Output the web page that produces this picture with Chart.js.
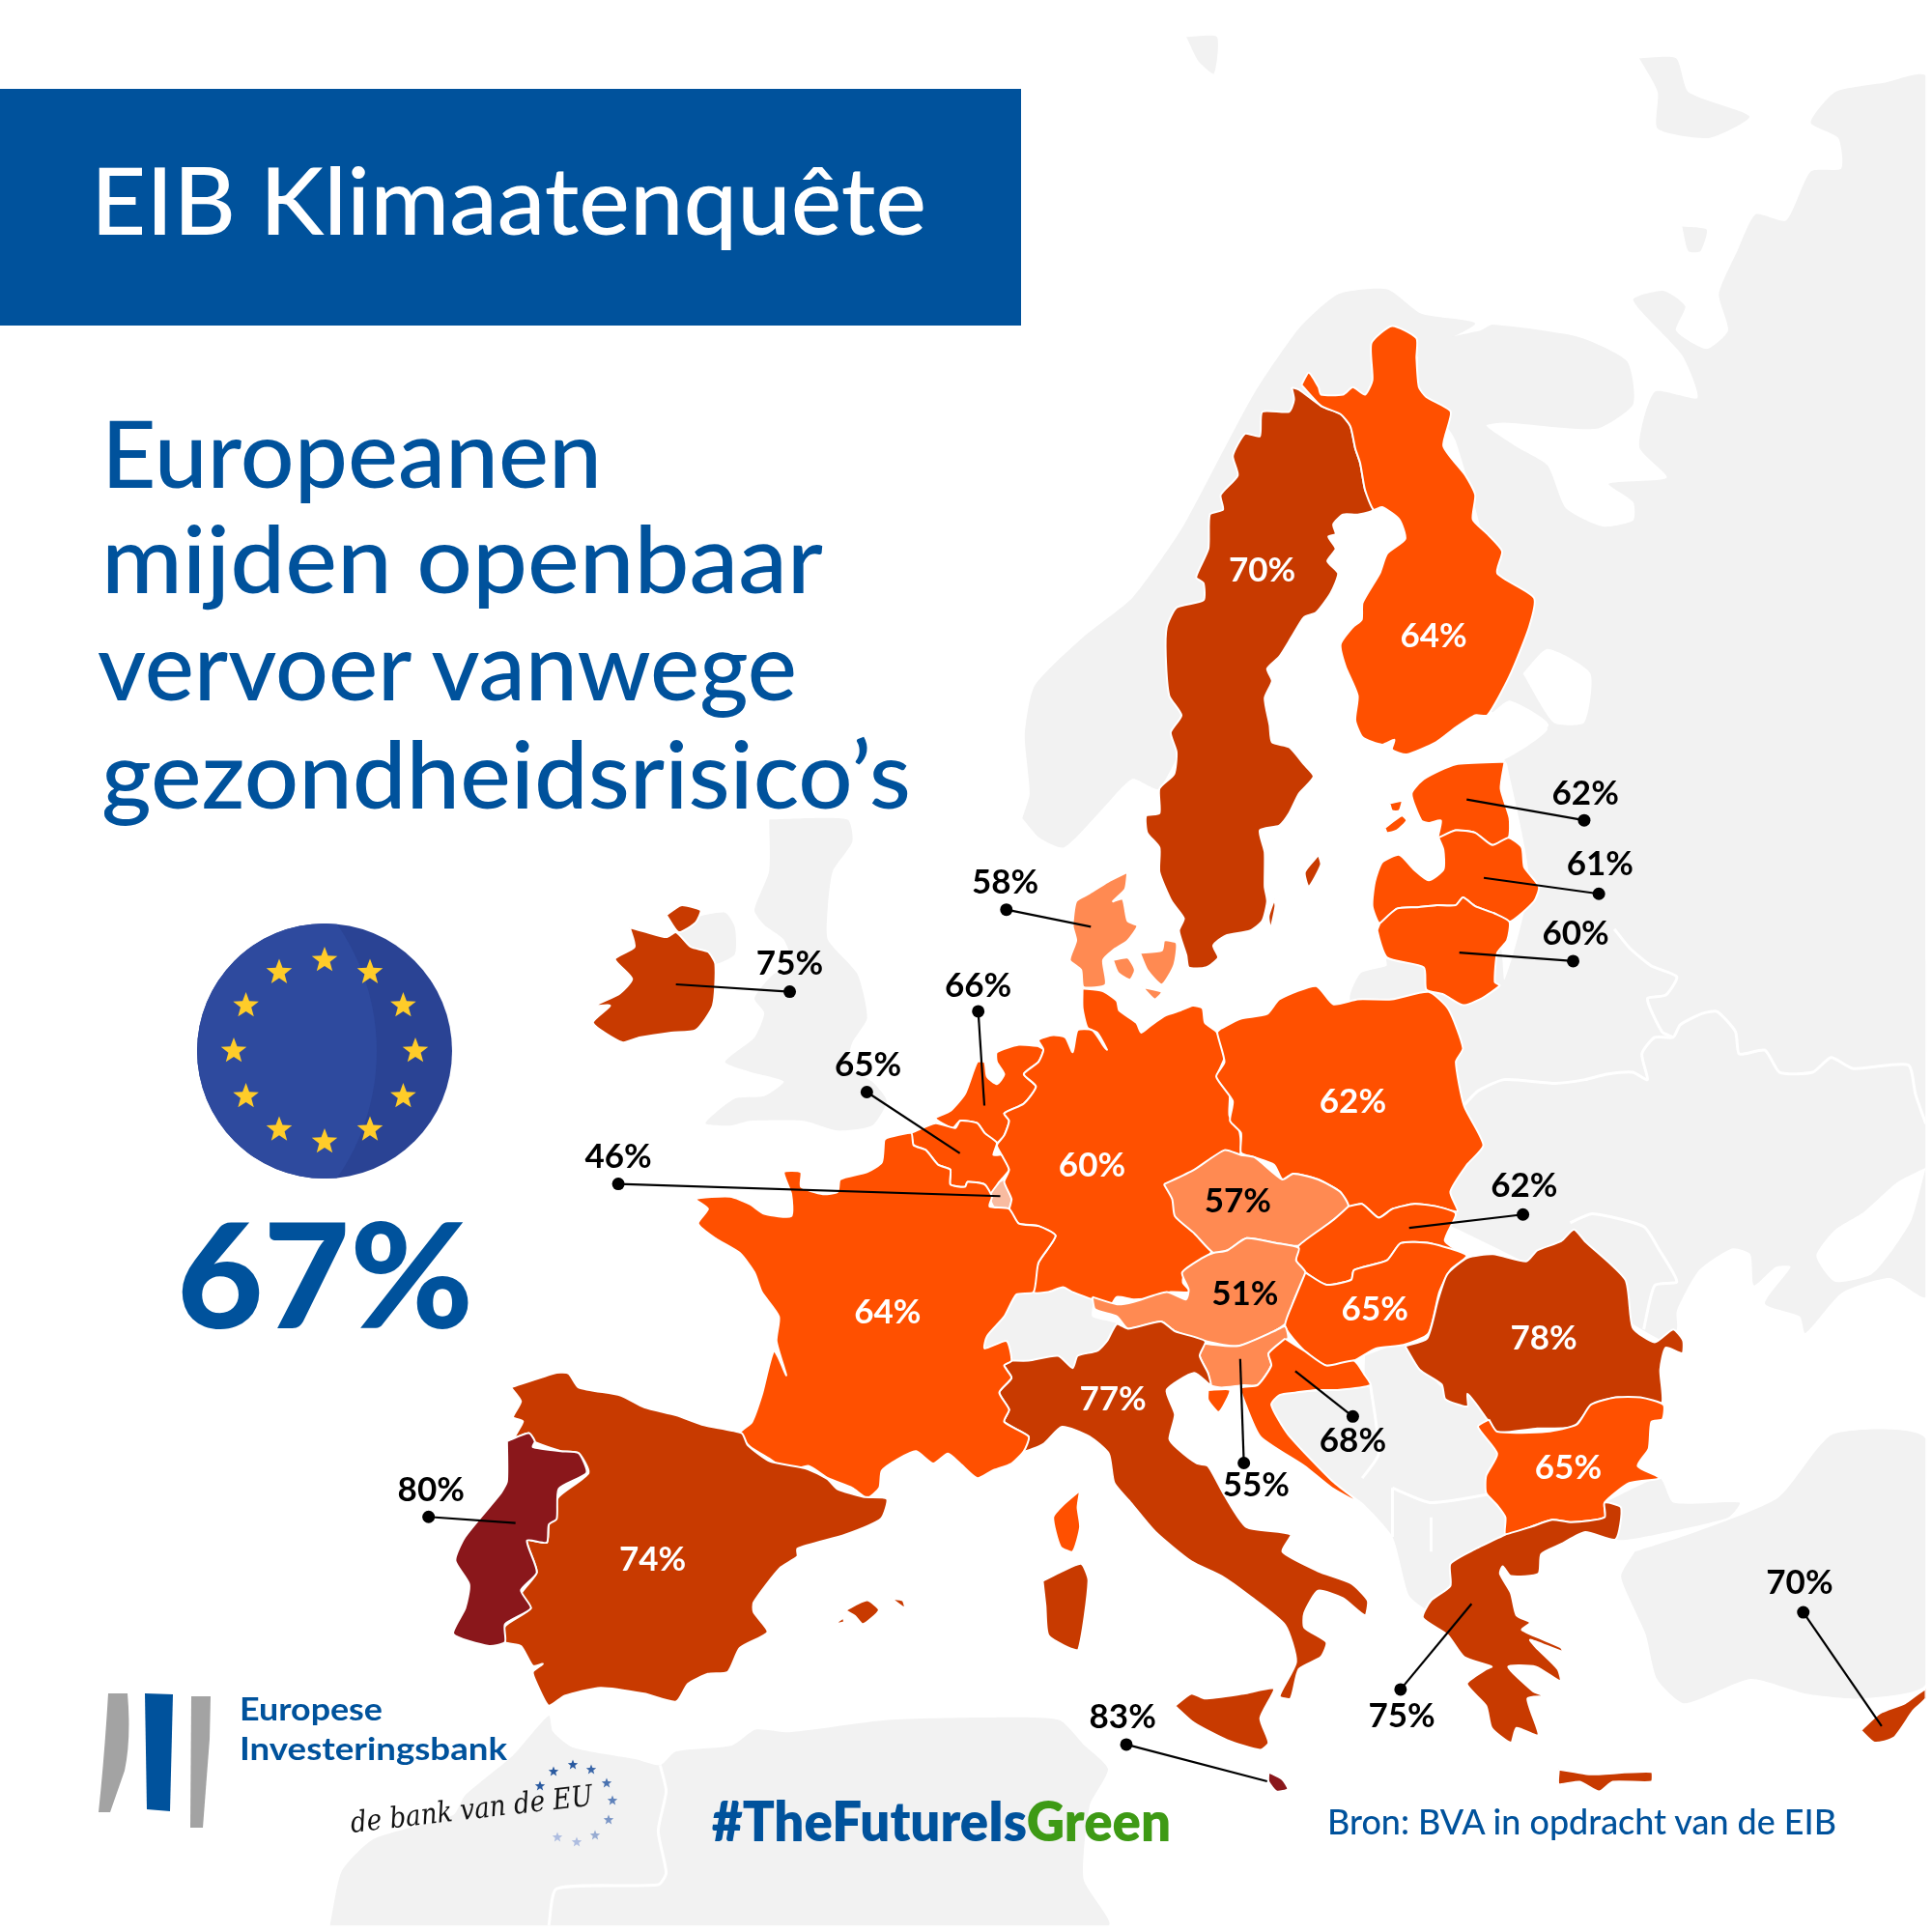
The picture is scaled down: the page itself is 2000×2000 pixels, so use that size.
<!DOCTYPE html>
<html lang="nl">
<head>
<meta charset="utf-8">
<title>EIB Klimaatenquête</title>
<script src="https://cdn.jsdelivr.net/npm/chart.js@4"></script>
<style>
  html, body { margin: 0; padding: 0; background: #fff; }
  #wrap { position: relative; width: 2000px; height: 2000px; overflow: hidden; }
  #mapChart, #overlay { position: absolute; left: 0; top: 0; }
  #overlay text { font-family: Lato, "Noto Sans", sans-serif; }
</style>
</head>
<body>
<div id="wrap">
  <canvas id="mapChart" width="2000" height="2000"></canvas>
  <svg id="overlay" width="2000" height="2000" viewBox="0 0 2000 2000" xmlns="http://www.w3.org/2000/svg">
    <rect x="0" y="92" width="1057" height="245" fill="#00529c"/>
    <text x="94" y="243" font-size="97" font-weight="500" fill="#fff" textLength="865" lengthAdjust="spacingAndGlyphs">EIB Klimaatenquête</text>
    <g font-size="97" font-weight="500" fill="#00529c">
      <text x="105" y="505" textLength="518" lengthAdjust="spacingAndGlyphs">Europeanen</text>
      <text x="105" y="614" textLength="747" lengthAdjust="spacingAndGlyphs">mijden openbaar</text>
      <text x="101" y="725" textLength="724" lengthAdjust="spacingAndGlyphs">vervoer vanwege</text>
      <text x="105" y="837" textLength="838" lengthAdjust="spacingAndGlyphs">gezondheidsrisico’s</text>
    </g>
    <defs><clipPath id="flagClip"><circle cx="336" cy="1088" r="132"/></clipPath></defs>
    <circle cx="336" cy="1088" r="132" fill="#2a4394"/>
    <circle cx="159" cy="1088" r="231" fill="#2e4a9e" clip-path="url(#flagClip)"/>
    <g id="flagStars" fill="#ffcc29"></g>
    <text x="183" y="1375" font-size="150" font-weight="900" fill="#00529c" textLength="307" lengthAdjust="spacingAndGlyphs">67%</text>
    <path d="M112 1753 L132 1753 Q136 1800 129 1833 L114 1876 L102 1876 Q108 1820 112 1753Z" fill="#a3a3a3"/>
    <path d="M150 1753 L179 1754 L176 1875 L152 1873Z" fill="#00529c"/>
    <path d="M198 1756 L218 1756 L217 1800 L210 1892 L197 1892Z" fill="#a3a3a3"/>
    <g font-size="33" font-weight="700" fill="#00529c">
      <text x="248" y="1781" textLength="148" lengthAdjust="spacingAndGlyphs">Europese</text>
      <text x="248" y="1822" textLength="277" lengthAdjust="spacingAndGlyphs">Investeringsbank</text>
    </g>
    <text transform="translate(364 1897) rotate(-6.5)" style="font-family:'DejaVu Serif',serif;font-style:italic" font-size="30" fill="#111" textLength="252" lengthAdjust="spacingAndGlyphs">de bank van de EU</text>
    <g id="logoStars"></g>
    <text x="737" y="1906" font-size="57" font-weight="800" fill="#00529c" textLength="475" lengthAdjust="spacingAndGlyphs">#TheFutureIs<tspan fill="#3e9a15">Green</tspan></text>
    <text x="1374" y="1899" font-size="37" font-weight="500" fill="#00529c" textLength="527" lengthAdjust="spacingAndGlyphs">Bron: BVA in opdracht van de EIB</text>
  </svg>
</div>
<script>
const sheet = (ox, oy, kx, ky = kx) => pts => pts.map(([x, y]) => ({ x: ox + x * kx, y: oy + y * ky }));
const north = sheet(1000, 300, 0.5102);
const west = sheet(550, 850, 0.5102);
const east = sheet(1100, 1100, 0.574, 0.5102);
const iberia = sheet(300, 1350, 0.4145);
const arctic = sheet(1000, 0, 0.6378);
const black = sheet(1400, 950, 0.3827);
const page = sheet(0, 0, 1.2755);

// survey results
const countries = ['Zweden', 'Finland', 'Estland', 'Letland', 'Litouwen', 'Denemarken', 'Ierland', 'Nederland', 'België', 'Luxemburg',
  'Duitsland', 'Polen', 'Tsjechië', 'Slowakije', 'Oostenrijk', 'Hongarije', 'Slovenië', 'Kroatië', 'Roemenië', 'Bulgarije',
  'Griekenland', 'Italië', 'Frankrijk', 'Spanje', 'Portugal', 'Malta', 'Cyprus'];
const shares = [70, 64, 62, 61, 60, 58, 75, 66, 65, 46,
  60, 62, 57, 62, 51, 65, 55, 68, 78, 65,
  75, 77, 64, 74, 80, 83, 70];

// background land
const norway = north([[115,1070],[130,1020],[120,900],[140,800],[240,700],[340,620],[440,480],[520,330],[590,200],[680,70],[760,0],[860,-10],[930,40],[1040,60],[920,130],[700,400],[500,800],[395,1010],[340,990],[280,1050],[200,1130],[150,1110]]);
const eastLand = [
  ...arctic([[740,550],[840,530],[860,520],[1000,540],[1080,580],[1090,650],[1030,690],[880,680],[850,685],[900,720],[950,750],[980,820],[1040,850],[1090,840],[1090,810],[1050,780],[1145,770],[1100,720],[1125,630],[1195,640],[1170,570],[1090,480],[1140,465],[1175,490],[1160,530],[1210,560],[1245,530],[1230,470],[1260,400],[1290,340],[1340,350],[1380,270],[1430,265],[1425,215],[1380,190],[1420,140],[1500,125],[1568,115],[1568,1568]]),
  ...black([[1568,1030],[1470,980],[1340,1020],[1240,1130],[1225,1085],[1130,1050],[1200,950],[1160,950],[1100,1000],[1090,915],[1040,900],[950,960],[890,1070],[890,1120],[850,1150],[600,1000],[300,850],[0,700],[0,215],[30,150],[100,130],[100,110],[400,50]]),
  ...north([[1100,1400],[1150,1200],[1105,960],[1100,950],[1190,880],[1110,830],[1065,860],[1100,700],[1000,300],[925,190]])
];
const azovSea = black([[1568,680],[1490,720],[1400,800],[1320,850],[1270,920],[1320,990],[1420,970],[1480,900],[1530,820]]);
const ladoga = arctic([[910,1090],[950,1050],[1020,1090],[1010,1170],[960,1170]]);
const gulfEnd = arctic([[850,1150],[950,1180],[880,1230],[800,1240]]);
const onega = arctic([[1170,360],[1210,365],[1200,400],[1180,400]]);
const svalbardTip = arctic([[360,50],[410,50],[405,110],[380,90]]);
const novaya = arctic([[1100,85],[1160,85],[1180,140],[1280,180],[1215,215],[1130,200],[1130,140]]);
const britain = west([[480,-5],[640,-5],[650,40],[610,100],[600,170],[600,240],[660,310],[680,400],[650,450],[640,500],[690,530],[720,570],[690,620],[620,630],[550,610],[440,610],[400,620],[350,615],[410,565],[470,560],[510,530],[440,510],[390,490],[450,440],[470,390],[450,360],[490,310],[530,300],[510,240],[470,210],[450,180],[480,100]]);
const ulster = west([[290,225],[330,195],[390,185],[410,215],[410,270],[370,290],[355,265],[320,255]]);
const swiss = west([[985,965],[1020,960],[1050,960],[1080,950],[1100,960],[1140,975],[1140,1010],[1190,1025],[1170,1060],[1150,1080],[1110,1090],[1100,1115],[1070,1090],[1010,1100],[975,1100],[965,1060],[920,1075],[925,1050],[960,1010]]);
const balkans = east([[550,600],[620,575],[650,615],[695,670],[740,680],[775,730],[755,745],[790,800],[770,845],[770,880],[805,930],[805,965],[750,995],[705,1025],[705,1070],[670,1100],[665,1120],[630,1090],[600,970],[545,900],[490,855],[410,760],[380,700],[395,680],[500,670],[560,660],[550,640]]);
const thrace = east([[985,900],[1085,850],[1110,900],[1230,900],[1210,930],[1100,960],[1005,975],[1015,910]]);
const anatolia = east([[1040,1000],[1150,960],[1300,890],[1400,760],[1568,770],[1568,1270],[1450,1300],[1350,1290],[1250,1260],[1130,1310],[1080,1260],[1060,1170],[1040,1120],[1015,1050]]);
const africa = [
  ...iberia([[90,1568],[120,1430],[200,1350],[400,1290],[430,1240],[550,1140],[640,1040],[650,1080],[700,1120],[860,1150],[920,1165],[960,1130],[1100,1115],[1160,1075]]),
  ...page([[640,1410],[720,1400],[800,1398],[860,1400],[880,1420],[900,1440],[885,1470],[880,1530],[900,1568]])
];
const landShapes = [norway, eastLand, britain, ulster, swiss, balkans, thrace, anatolia, africa, onega, svalbardTip, novaya];
const seaShapes = [azovSea, ladoga, gulfEnd];

// white borders inside the grey land
const grayBorders = [
  black([[310,510],[350,470],[420,440],[560,450],[640,440],[700,425],[770,420],[810,440],[795,370],[830,325],[880,325],[900,290],[960,260],[1000,255],[1050,310],[1060,370],[1130,360],[1170,420],[1260,420],[1310,380],[1370,410],[1520,400],[1540,480],[1568,560]]),
  black([[720,30],[760,80],[820,130],[890,160],[860,210],[810,220],[850,310],[880,325]]),
  black([[600,830],[660,805],[800,840],[840,900],[890,990],[830,1000],[800,1120]]),
  east([[560,660],[575,800],[545,850]]),
  east([[600,870],[670,900],[790,880]]),
  east([[600,870],[600,970]]),
  east([[670,930],[670,1000]]),
  iberia([[920,1165],[935,1230],[915,1330],[935,1435],[915,1465],[660,1475],[640,1568]])
];

// member states
const sweden = north([[665,190],[680,195],[725,228],[765,245],[785,270],[795,315],[805,345],[815,400],[832,440],[800,450],[770,450],[750,470],[755,490],[740,495],[755,520],[738,545],[760,570],[745,610],[715,650],[690,660],[665,700],[640,740],[615,765],[625,790],[610,825],[620,880],[625,915],[660,925],[690,960],[710,985],[680,1020],[660,1060],[640,1085],[600,1095],[610,1140],[610,1210],[615,1240],[605,1280],[580,1300],[530,1310],[505,1330],[515,1355],[490,1375],[455,1375],[450,1350],[435,1300],[445,1275],[420,1240],[395,1180],[395,1130],[370,1100],[368,1065],[395,1060],[395,1010],[425,980],[430,935],[418,895],[440,860],[415,820],[408,740],[410,680],[430,640],[485,625],[485,590],[470,578],[495,520],[498,450],[525,440],[520,410],[555,370],[545,330],[570,285],[600,290],[605,240],[660,240],[670,215]]);
const gotland = north([[720,1145],[725,1165],[700,1210],[692,1180]]);
const oland = north([[630,1235],[632,1250],[622,1295],[618,1270]]);
const finland = north([[685,185],[700,160],[720,190],[725,205],[770,205],[790,190],[815,205],[830,175],[828,100],[870,65],[920,90],[920,130],[925,190],[940,210],[990,240],[975,310],[1020,370],[1040,410],[1035,460],[1065,490],[1095,525],[1085,570],[1160,620],[1150,680],[1110,780],[1065,860],[1040,860],[1000,885],[960,915],[900,940],[870,930],[875,910],[850,920],[810,905],[795,870],[800,820],[775,760],[765,715],[790,680],[808,665],[810,630],[845,570],[860,530],[897,500],[885,460],[850,435],[832,440],[815,400],[805,345],[795,315],[785,270],[765,245],[725,228]]);
const estonia = north([[1100,955],[1092,1010],[1110,1070],[1108,1110],[1075,1125],[1040,1100],[1000,1095],[965,1110],[970,1075],[945,1080],[930,1075],[910,1020],[935,990],[1000,960]]);
const hiiumaa = north([[865,1040],[890,1035],[885,1055],[870,1055]]);
const saaremaa = north([[855,1090],[890,1065],[900,1075],[880,1095],[860,1100]]);
const latvia = north([[965,1110],[1000,1095],[1040,1100],[1075,1125],[1108,1110],[1135,1130],[1140,1170],[1170,1210],[1160,1240],[1110,1282],[1080,1265],[1040,1250],[1015,1232],[1000,1248],[960,1248],[920,1252],[880,1255],[845,1285],[830,1250],[835,1200],[850,1160],[885,1145],[915,1175],[945,1197],[975,1175],[975,1135]]);
const lithuania = north([[845,1285],[880,1255],[920,1252],[960,1248],[1000,1248],[1015,1232],[1040,1250],[1080,1265],[1110,1282],[1105,1320],[1085,1345],[1080,1405],[1090,1412],[1050,1440],[1015,1452],[975,1430],[940,1420],[935,1375],[860,1355],[840,1300]]);
const jutland = north([[330,1180],[325,1215],[300,1240],[320,1235],[330,1280],[350,1290],[330,1320],[300,1340],[280,1360],[285,1410],[240,1415],[235,1380],[212,1360],[225,1320],[218,1290],[225,1240],[250,1225],[290,1200]]);
const funen = north([[300,1360],[330,1355],[345,1380],[335,1400],[310,1385]]);
const zealand = north([[355,1345],[400,1340],[405,1320],[430,1325],[425,1370],[400,1410],[370,1380]]);
const lolland = north([[360,1415],[400,1425],[385,1440]]);
const ireland = west([[195,215],[230,225],[270,235],[290,225],[320,255],[355,265],[370,290],[365,375],[330,425],[280,430],[215,440],[180,450],[120,410],[155,375],[125,375],[175,350],[200,320],[165,280],[205,255]]);
const donegal = west([[270,190],[300,170],[340,180],[330,205],[295,225]]);
const netherlands = west([[1030,458],[1040,465],[1030,490],[1000,515],[1025,540],[1000,575],[960,595],[970,610],[960,640],[945,655],[920,635],[905,615],[870,610],[855,625],[820,605],[850,590],[880,555],[905,490],[920,490],[925,520],[945,535],[960,515],[945,490],[945,470],[990,455]]);
const belgium = west([[770,635],[820,615],[860,625],[870,610],[905,615],[920,635],[945,655],[938,680],[955,680],[970,710],[950,735],[935,765],[920,740],[885,735],[880,745],[850,740],[850,710],[825,700],[800,670],[775,660]]);
const luxembourg = west([[950,735],[960,730],[975,770],[970,790],[945,795],[930,765]]);
const germany = west([[1120,340],[1160,345],[1190,365],[1195,385],[1230,410],[1240,430],[1260,415],[1290,395],[1320,385],[1345,375],[1365,380],[1370,410],[1395,430],[1410,480],[1395,520],[1420,550],[1420,600],[1440,630],[1443,675],[1400,780],[1385,875],[1360,900],[1330,915],[1325,940],[1340,960],[1300,960],[1270,970],[1225,975],[1190,970],[1175,990],[1140,975],[1100,960],[1080,950],[1050,960],[1020,960],[1030,900],[1065,845],[1030,825],[990,820],[970,795],[975,770],[960,735],[970,710],[955,680],[945,660],[960,640],[970,610],[960,595],[1000,575],[1025,540],[1000,515],[1030,490],[1040,465],[1030,445],[1060,435],[1085,440],[1100,470],[1110,425],[1140,425],[1165,460],[1170,465],[1150,430],[1130,420],[1120,380]]);
const poland = [
  ...north([[520,1500],[560,1480],[615,1470],[640,1440],[715,1413],[750,1450],[800,1440],[870,1440],[945,1425],[985,1460],[1015,1540]]),
  ...east([[715,0],[730,90],[765,170],[735,210],[705,265],[718,305],[680,295],[640,290],[600,300],[575,318],[545,290],[520,295],[505,265],[465,240],[420,228],[400,240],[385,210],[350,195],[325,185],[325,145],[305,120],[310,80],[280,30],[295,0]]),
  ...west([[1395,430]])
];
const czechia = east([[185,250],[240,220],[295,180],[325,190],[350,195],[400,240],[420,228],[465,240],[505,265],[520,295],[490,325],[430,375],[390,370],[335,360],[300,385],[275,390],[240,350],[205,315],[200,280]]);
const slovakia = east([[520,295],[545,290],[575,318],[600,300],[640,290],[680,295],[715,310],[695,365],[730,395],[668,370],[615,370],[590,405],[530,425],[525,445],[480,455],[442,430],[425,405],[430,375],[490,325]]);
const austria = east([[55,480],[100,495],[130,490],[190,470],[225,485],[230,465],[218,430],[255,400],[275,390],[300,385],[335,360],[390,370],[430,380],[425,405],[442,430],[420,490],[410,530],[385,550],[320,580],[260,570],[205,550],[180,530],[120,545],[100,520],[60,505]]);
const hungary = east([[442,430],[480,455],[525,445],[530,425],[590,405],[615,370],[668,370],[735,395],[705,425],[685,470],[665,555],[620,578],[570,585],[530,610],[480,620],[440,590],[405,540],[420,490]]);
const slovenia = east([[255,575],[320,580],[385,550],[405,540],[410,565],[375,595],[380,620],[355,660],[330,660],[290,665],[270,660],[265,635],[250,600]]);
const croatia = east([[405,565],[440,590],[480,620],[530,610],[550,640],[560,660],[500,670],[460,670],[425,675],[395,680],[380,700],[410,760],[490,855],[540,900],[490,870],[440,825],[360,765],[330,690],[325,665],[355,660],[380,620],[375,595]]);
const istria = east([[265,670],[305,670],[285,715],[265,690]]);
const romania = black([[150,1165],[210,1145],[240,1040],[265,970],[320,925],[390,915],[480,935],[510,905],[575,880],[610,848],[640,880],[750,985],[770,1115],[830,1155],[880,1120],[907,1150],[905,1185],[860,1170],[845,1230],[850,1320],[800,1320],[730,1305],[660,1325],[610,1385],[510,1390],[400,1400],[370,1360],[345,1325],[320,1295],[320,1330],[260,1310],[250,1270],[190,1230]]);
const bulgaria = east([[775,730],[790,755],[880,755],[935,740],[960,700],[1005,685],[1050,685],[1092,700],[1090,730],[1070,735],[1065,790],[1045,825],[1085,850],[1030,860],[985,900],[985,930],[925,940],[890,935],[850,950],[805,965],[805,930],[790,905],[770,880],[770,845],[790,800],[755,745]]);
const greece = east([[805,965],[850,950],[890,935],[925,940],[985,930],[985,900],[1015,910],[1005,975],[950,960],[905,985],[870,1005],[865,1045],[815,1050],[800,1030],[795,1045],[815,1085],[825,1130],[850,1145],[835,1160],[905,1195],[910,1205],[850,1180],[860,1195],[900,1240],[905,1265],[860,1235],[810,1235],[855,1285],[875,1295],[845,1300],[865,1375],[825,1360],[815,1390],[780,1360],[770,1315],[735,1270],[770,1240],[780,1235],[730,1215],[700,1170],[655,1135],[670,1100],[705,1070],[705,1025],[750,995]]);
const crete = east([[902,1445],[930,1450],[960,1455],[1070,1450],[1070,1470],[1000,1470],[975,1490],[940,1470],[902,1475]]);
const italy = [
  ...west([[975,1100],[1010,1100],[1070,1090],[1100,1115],[1110,1090],[1150,1080],[1170,1060],[1190,1025]]),
  ...east([[120,545],[180,530],[205,550],[260,570],[250,600],[265,635],[270,660],[240,635],[190,670],[205,720],[195,770],[210,790],[245,820],[265,825],[295,885],[335,950],[415,965],[400,1000],[465,1040],[525,1065],[555,1100],[550,1130],[510,1095],[465,1080],[440,1125],[440,1155],[480,1185],[470,1215],[430,1240],[415,1300],[395,1295],[425,1225],[405,1150],[340,1090],[290,1050],[235,1020],[170,960],[125,900],[95,860],[85,800],[50,765],[0,745]]),
  ...west([[1040,1270],[1000,1285],[1010,1255],[960,1225],[970,1200],[950,1165],[975,1135],[960,1110]])
];
const sicily = east([[205,1315],[235,1290],[260,1300],[330,1290],[385,1280],[360,1340],[375,1390],[360,1405],[300,1385],[240,1350]]);
const sardinia = east([[-35,1060],[0,1040],[35,1025],[48,1060],[30,1200],[10,1195],[-25,1170],[-30,1110]]);
const france = west([[720,645],[770,635],[775,660],[800,670],[825,700],[850,710],[850,740],[880,745],[885,735],[920,740],[935,765],[930,785],[970,790],[990,820],[1030,825],[1065,845],[1030,900],[1020,960],[985,965],[960,1010],[925,1050],[920,1075],[965,1060],[975,1100],[960,1110],[975,1135],[950,1165],[970,1200],[960,1225],[1010,1255],[1000,1285],[975,1310],[935,1325],[905,1340],[870,1310],[845,1290],[815,1310],[780,1285],[745,1300],[710,1325],[705,1360],[680,1380],[650,1360],[600,1340],[560,1315],[520,1325],[480,1300],[440,1275],[420,1248],[445,1225],[465,1170],[490,1080],[515,1130],[495,1060],[500,1010],[465,960],[450,920],[420,880],[370,850],[335,820],[355,790],[330,770],[400,765],[440,780],[470,800],[525,805],[525,760],[510,715],[545,715],[545,745],[590,760],[620,755],[625,730],[680,715],[710,695],[715,650]]);
const corsica = west([[1115,1365],[1110,1400],[1115,1440],[1100,1490],[1075,1480],[1060,1420],[1080,1395]]);
const spain = iberia([[545,215],[660,178],[690,180],[715,215],[820,235],[880,265],[960,285],[1030,310],[1125,330],[1140,360],[1195,400],[1290,420],[1340,445],[1365,470],[1430,490],[1490,495],[1475,545],[1385,585],[1265,620],[1265,640],[1220,670],[1155,755],[1155,780],[1190,830],[1120,870],[1090,930],[1040,935],[990,960],[960,1005],[880,985],[770,970],[680,990],[640,1015],[610,960],[600,930],[625,910],[600,915],[570,865],[530,855],[530,815],[595,770],[570,735],[610,680],[585,600],[635,605],[640,560],[665,490],[740,430],[715,380],[670,375],[600,350],[590,330],[555,340],[575,300],[550,290],[570,250]]);
const mallorca = iberia([[1385,775],[1440,750],[1470,775],[1430,810],[1410,790]]);
const menorca = iberia([[1500,745],[1530,750],[1535,770]]);
const ibiza = iberia([[1358,810],[1380,795],[1382,805]]);
const portugal = iberia([[535,350],[590,330],[605,350],[600,365],[670,375],[715,380],[735,430],[665,470],[660,545],[640,560],[635,605],[585,600],[610,680],[570,725],[595,770],[530,810],[530,855],[490,865],[400,835],[430,770],[440,710],[405,650],[430,590],[520,480],[535,450]]);
const malta = east([[375,1450],[400,1465],[410,1485],[390,1490],[375,1470]]);
const cyprus = east([[1450,1365],[1485,1330],[1530,1310],[1568,1280],[1568,1300],[1545,1325],[1510,1380],[1475,1390]]);
const countryShapes = [
  [sweden, gotland, oland], [finland], [estonia, hiiumaa, saaremaa], [latvia], [lithuania], [jutland, funen, zealand, lolland], [ireland, donegal], [netherlands], [belgium], [luxembourg],
  [germany], [poland], [czechia], [slovakia], [austria], [hungary], [slovenia], [croatia, istria], [romania], [bulgaria],
  [greece, crete], [italy, sicily, sardinia], [france, corsica], [spain, mallorca, menorca, ibiza], [portugal], [malta], [cyprus]
];

// label places, in the same order as countries
const labelAt = [[1026,461],[1166,515],[1290,643],[1302,701],[1282,758],[816,716],[640,782],[794,800],[704,865],[500,940],
  [887,947],[1100,895],[1006,976],[1240,964],[1012,1052],[1118,1065],[1021,1208],[1100,1172],[1256,1088],[1276,1194],
  [1140,1397],[904,1138],[720,1067],[528,1269],[347,1212],[912,1398],[1465,1288]];
// leader lines: country index, dot, end inside the country
const leaderIndex = [2, 3, 4, 5, 6, 7, 8, 9, 13, 16, 17, 20, 24, 25, 26];
const leaderDot = [[1289,665],[1301,725],[1280,780],[817,738],[640,805],[794,821],[703,887],[500,962],[1239,987],[1011,1190],[1100,1152],[1139,1375],[345,1234],[915,1420],[1468,1312]];
const leaderEnd = [[1193,648],[1207,712],[1187,773],[886,752],[547,799],[799,898],[779,937],[812,972],[1146,998],[1008,1105],[1053,1115],[1197,1305],[416,1239],[1030,1450],[1532,1405]];

function shareColour(v) {
  if (v < 50) return '#f8bba0';
  if (v < 60) return '#ff8a52';
  if (v < 70) return '#ff5000';
  if (v < 80) return '#c83a00';
  return '#8a171b';
}

const ring = pts => [...pts, pts[0]];
const area = (pts, colour, edge) => ({
  data: ring(pts), showLine: true, fill: 'shape', backgroundColor: colour,
  borderColor: edge, borderWidth: edge === 'transparent' ? 0 : 2, pointRadius: 0, tension: 0.2
});

const datasets = [];
landShapes.forEach(s => datasets.push(area(s, '#f2f2f2', 'transparent')));
seaShapes.forEach(s => datasets.push(area(s, '#ffffff', 'transparent')));
grayBorders.forEach(s => datasets.push({ data: s, showLine: true, borderColor: '#ffffff', borderWidth: 3, pointRadius: 0, tension: 0.2 }));
countryShapes.forEach((shapes, i) => shapes.forEach(s => datasets.push(area(s, shareColour(shares[i]), '#ffffff'))));
leaderIndex.forEach((c, i) => datasets.push({
  data: page([leaderDot[i], leaderEnd[i]]), showLine: true, borderColor: '#000', borderWidth: 2.2,
  backgroundColor: '#000', pointBorderWidth: 0, pointRadius: ctx => ctx.dataIndex === 0 ? 6.5 : 0
}));

const shareLabels = {
  id: 'shareLabels',
  afterDatasetsDraw(chart) {
    const { ctx, scales } = chart;
    ctx.save();
    ctx.font = '700 35px Lato, "Noto Sans", sans-serif';
    ctx.textAlign = 'center';
    ctx.textBaseline = 'middle';
    shares.forEach((v, i) => {
      const [pos] = page([labelAt[i]]);
      ctx.fillStyle = leaderIndex.includes(i) || v < 60 ? '#000' : '#fff';
      ctx.fillText(v + '%', scales.x.getPixelForValue(pos.x), scales.y.getPixelForValue(pos.y));
    });
    ctx.restore();
  }
};

new Chart(document.getElementById('mapChart').getContext('2d'), {
  type: 'scatter',
  data: { datasets: datasets.reverse() },
  options: {
    responsive: false,
    animation: false,
    devicePixelRatio: 1,
    layout: { padding: 0 },
    plugins: { legend: { display: false }, tooltip: { enabled: false } },
    scales: {
      x: { type: 'linear', min: 0, max: 2000, display: false },
      y: { type: 'linear', min: 0, max: 2000, reverse: true, display: false }
    }
  },
  plugins: [shareLabels]
});

// EU flag and logo stars
function starPath(cx, cy, r) {
  let d = '';
  for (let i = 0; i < 10; i++) {
    const a = -Math.PI / 2 + i * Math.PI / 5;
    const q = i % 2 ? r * 0.42 : r;
    d += (i ? 'L' : 'M') + (cx + q * Math.cos(a)).toFixed(1) + ' ' + (cy + q * Math.sin(a)).toFixed(1);
  }
  return d + 'Z';
}
const NS = 'http://www.w3.org/2000/svg';
for (let i = 0; i < 12; i++) {
  const a = i * Math.PI / 6;
  const p = document.createElementNS(NS, 'path');
  p.setAttribute('d', starPath(336 + 94 * Math.sin(a), 1088 - 94 * Math.cos(a), 14));
  document.getElementById('flagStars').appendChild(p);
}
const logoStarX = [593, 612, 628, 634, 630, 616, 597, 577, 559, 573];
const logoStarY = [1827, 1832, 1846, 1864, 1884, 1900, 1907, 1902, 1849, 1834];
const logoStarFill = ['#2a5aa0', '#3a66a8', '#4a72b0', '#5f82ba', '#7b96c6', '#98acd2', '#aebde0', '#aebde0', '#2a5aa0', '#2a5aa0'];
logoStarX.forEach((x, i) => {
  const p = document.createElementNS(NS, 'path');
  p.setAttribute('d', starPath(x, logoStarY[i], 5.5));
  p.setAttribute('fill', logoStarFill[i]);
  document.getElementById('logoStars').appendChild(p);
});
</script>
</body>
</html>
